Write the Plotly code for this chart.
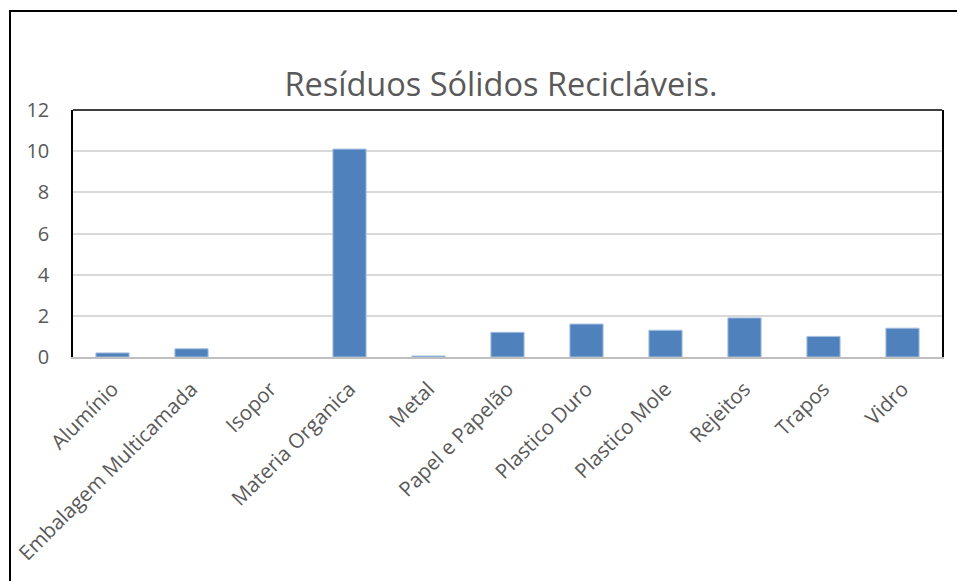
import plotly.graph_objects as go

# Categorias e quantidades de resíduos
categorias = [
    "Alumínio", "Embalagem Multicamada", "Isopor", "Materia Organica", "Metal",
    "Papel e Papelão", "Plastico Duro", "Plastico Mole", "Rejeitos", "Trapos", "Vidro",
]
quantidades = [0.2, 0.4, 0.0, 10.1, 0.05, 1.2, 1.6, 1.3, 1.9, 1.0, 1.4]
y_ticks = [0, 2, 4, 6, 8, 10, 12]

W, H = 957, 581
ML, MR, MT, MB = 73, 15, 110, 224
pw = W - ML - MR
ph = H - MT - MB

def px_x(px):
    return (px - ML) / pw

def px_y(py):
    return (H - MB - py) / ph

font_family = "Open Sans, Liberation Sans, sans-serif"
text_color = "#595959"

# contorno claro nas barras, omitido quando o valor é zero
contorno = [0 if v == 0 else 1 for v in quantidades]

fig = go.Figure(
    go.Bar(
        x=categorias,
        y=quantidades,
        marker=dict(color="#4F81BD", line=dict(color="#A7C0DE", width=contorno)),
        width=0.42,
    )
)

fig.update_layout(
    width=W,
    height=H,
    margin=dict(l=ML, r=MR, t=MT, b=MB),
    paper_bgcolor="white",
    plot_bgcolor="white",
    showlegend=False,
    title=dict(
        text="Resíduos Sólidos Recicláveis.",
        x=(501 / W),
        xanchor="center",
        y=1 - 85 / H,
        yanchor="middle",
        font=dict(family=font_family, size=32.5, color=text_color),
    ),
    font=dict(family=font_family, color=text_color),
    shapes=[
        # moldura externa do gráfico
        dict(type="rect", xref="paper", yref="paper",
             x0=px_x(10), x1=px_x(970), y0=px_y(600), y1=px_y(11),
             line=dict(color="black", width=2), layer="below"),
        # borda superior da área de plotagem
        dict(type="line", xref="paper", yref="paper",
             x0=0, x1=1, y0=1, y1=1, line=dict(color="black", width=1.5)),
    ],
)

fig.update_xaxes(
    tickangle=-45,
    tickfont=dict(size=20.5, color=text_color),
    ticklabelstandoff=10,
    showline=True,
    linecolor="#BFBFBF",
    linewidth=2,
    ticks="",
    showgrid=False,
)

fig.update_yaxes(
    range=[0, 12],
    tickvals=y_ticks,
    tickfont=dict(size=20, color=text_color),
    ticklabelstandoff=18,
    showgrid=True,
    gridcolor="#D9D9D9",
    gridwidth=1.5,
    showline=True,
    linecolor="black",
    linewidth=1.5,
    mirror=True,
    ticks="",
    ticklen=0,
    zeroline=False,
)

fig.write_html("out.html")
